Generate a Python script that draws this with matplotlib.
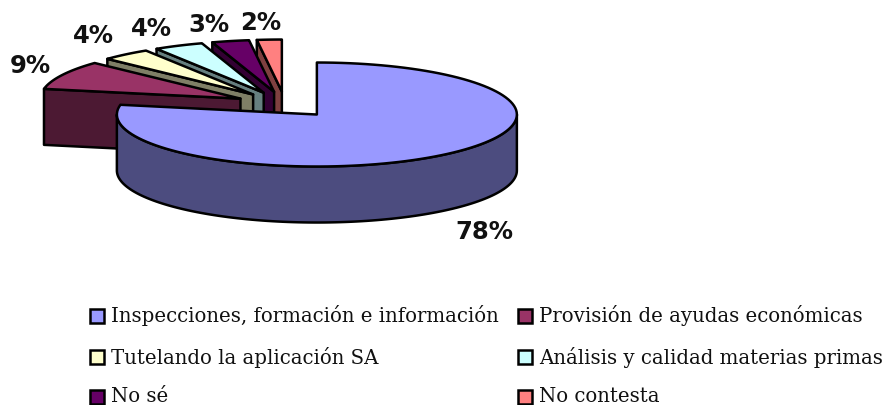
import numpy as np
import matplotlib
matplotlib.use('Agg')
import matplotlib.pyplot as plt
from matplotlib.patches import Polygon, Rectangle

categories = ['Inspecciones, formación e información', 'Provisión de ayudas económicas',
              'Tutelando la aplicación SA', 'Análisis y calidad materias primas',
              'No sé', 'No contesta']
values = [78, 9, 4, 4, 3, 2]
colors = ['#9999FF', '#993366', '#FFFFCC', '#CCFFFF', '#660066', '#FF8080']
wall_colors = ['#4C4C7F', '#4C1933', '#7F7F66', '#667F7F', '#330033', '#7F4040']

# pie geometry in pixels
cx, cy = 285, 104.5
rx, ry = 200, 52
depth = 56
explode = 50
edge = 1.8

label_pos = [(484, 232), (30, 66), (93, 36), (151, 29), (209, 25), (261, 23)]
legend_x = [90, 518]
legend_y = [316, 357, 397]

fig = plt.figure(figsize=(8.86, 4.05), dpi=100)
ax = fig.add_axes([0, 0, 1, 1])
ax.set_xlim(0, 886)
ax.set_ylim(405, 0)
ax.axis('off')


def rim(tip, a0, a1):
    # angles in degrees clockwise from 12 o'clock
    t = np.radians(np.linspace(a0, a1, 120))
    return np.column_stack([tip[0] + rx * np.sin(t), tip[1] - ry * np.cos(t)])


starts = np.cumsum([0] + values[:-1]) * 3.6
ends = np.cumsum(values) * 3.6
tips = []
for s, e in zip(starts, ends):
    mid = np.radians((s + e) / 2)
    tips.append((cx + explode * np.sin(mid), cy - explode * ry / rx * np.cos(mid)))

# painted from the last slice back, each top hides most of the next wall
for i in [5, 4, 3, 2, 1, 0]:
    tip = tips[i]
    arc = rim(tip, starts[i], ends[i])
    if i == 0:
        # front of the cylinder
        front = rim(tip, 90, 270)
        wall = np.vstack([front, (front + [0, depth])[::-1]])
    else:
        # cut face along the start edge
        a = arc[0]
        wall = np.array([a, tip, (tip[0], tip[1] + depth), (a[0], a[1] + depth)])
    ax.add_patch(Polygon(wall, closed=True, fc=wall_colors[i], ec='black', lw=edge, joinstyle='round'))
    top = np.vstack([[tip], arc])
    ax.add_patch(Polygon(top, closed=True, fc=colors[i], ec='black', lw=edge, joinstyle='round'))

for v, (x, y) in zip(values, label_pos):
    ax.text(x, y, '{}%'.format(v), fontsize=17.5, fontweight='bold', family='DejaVu Sans',
            color='#111111', ha='center', va='center')

for i, name in enumerate(categories):
    x = legend_x[i % 2]
    y = legend_y[i // 2]
    ax.add_patch(Rectangle((x, y - 7), 14, 14, fc=colors[i], ec='black', lw=edge))
    ax.text(x + 21, y, name, fontsize=14.2, family='DejaVu Serif', color='#111111',
            ha='left', va='center')

fig.savefig('out.png', dpi=100)
